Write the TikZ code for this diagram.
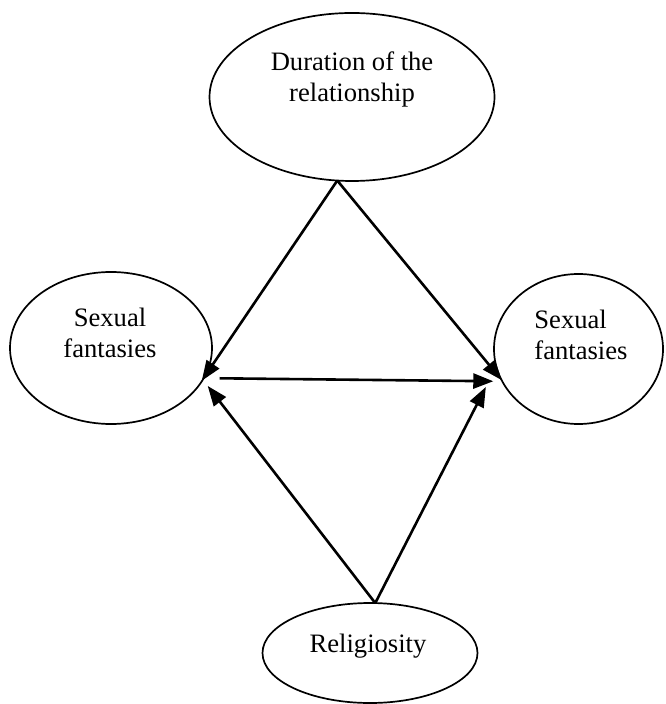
\documentclass[tikz,border=0pt]{standalone}
\usepackage{fontspec}
\setmainfont{Liberation Serif}
\usetikzlibrary{arrows.meta,shapes.geometric}

\begin{document}
\begin{tikzpicture}[x=0.5pt,y=-0.5pt,
  blob/.style={ellipse, draw, line width=0.85pt, inner sep=0pt, outer sep=0pt},
  lbl/.style={inner sep=0pt, font=\fontsize{13.3}{15.5}\selectfont},
  link/.style={line width=1.3pt, -{Triangle[length=10pt,width=7.5pt]}}]

\useasboundingbox (0,0) rectangle (665,704);

% ellipses
\node[blob, minimum width=142.5pt, minimum height=84pt] (dur) at (352,97) {};
\node[blob, minimum width=101pt, minimum height=76pt] (fantL) at (111,348) {};
\node[blob, minimum width=84.5pt, minimum height=75pt] (fantR) at (578.5,349) {};
\node[blob, minimum width=107.5pt, minimum height=50pt] (relig) at (370,653) {};

% texts
\node[lbl, align=center] (durtxt) at (352,79) {Duration of the\\relationship};
\node[lbl, align=center] (fantLtxt) at (110,333) {Sexual\\fantasies};
\node[lbl, align=left, anchor=west] (fantRtxt) at (534,335) {Sexual\\fantasies};
\node[lbl, anchor=base] (religtxt) at (368,652) {Religiosity};

% arrows
\draw[link, shorten >=-2.5pt] (dur.260) -- (fantL.-17);
\draw[link] (dur.260) -- (fantR.202);
\draw[link, shorten <=8pt, shorten >=4.5pt] (fantL.-18) -- (fantR.203);
\draw[link, shorten >=4pt] (relig.84) -- (fantL.-19);
\draw[link, shorten >=11.5pt] (relig.84) -- (fantR.192);

\end{tikzpicture}
\end{document}
